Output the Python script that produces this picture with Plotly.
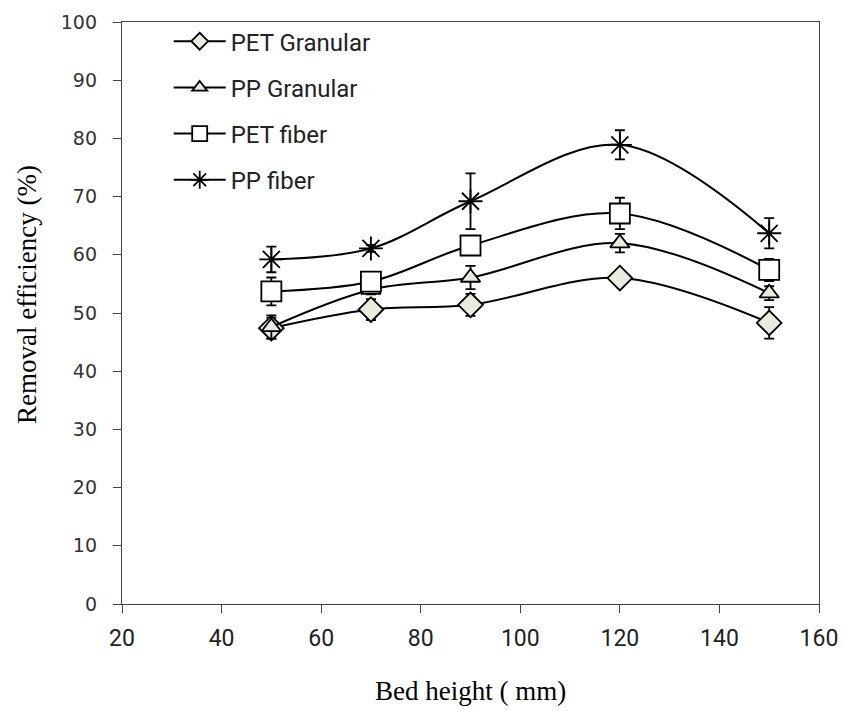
import plotly.graph_objects as go

# Bed height (mm)
bed_height = [50, 70, 90, 120, 150]

# Removal efficiency (%) and standard deviations
pet_granular = [47.4, 50.6, 51.4, 56.0, 48.3]
pet_granular_err = [1.8, 1.8, 1.9, 0.6, 2.7]

pp_granular = [47.6, 54.0, 56.1, 62.0, 53.4]
pp_granular_err = [2.0, 0.8, 2.0, 1.6, 1.2]

pet_fiber = [53.7, 55.4, 61.6, 67.1, 57.4]
pet_fiber_err = [2.4, 0.9, 1.2, 2.7, 1.9]

pp_fiber = [59.2, 61.1, 69.2, 78.9, 63.7]
pp_fiber_err = [2.2, 0.6, 4.8, 2.5, 2.6]

FILL = "#ebeadf"
series = [
    ("PET Granular", pet_granular, pet_granular_err, "diamond", 19, 13, FILL),
    ("PP Granular", pp_granular, pp_granular_err, "triangle-up", 17, 13, FILL),
    ("PET fiber", pet_fiber, pet_fiber_err, "square", 20, 15, "white"),
    ("PP fiber", pp_fiber, pp_fiber_err, "asterisk-open", 20, 15, "black"),
]

fig = go.Figure()
for name, vals, errs, symbol, size, leg_size, fill in series:
    fig.add_trace(go.Scatter(
        x=bed_height, y=vals, name=name, showlegend=False,
        mode="lines+markers",
        line=dict(color="black", width=2, shape="spline", smoothing=1.0),
        marker=dict(symbol=symbol, size=size, color=fill,
                    line=dict(color="black", width=1.8)),
        error_y=dict(type="data", array=errs, visible=True,
                     color="black", thickness=1.8, width=5),
    ))

# legend entries with smaller symbols
for name, vals, errs, symbol, size, leg_size, fill in series:
    fig.add_trace(go.Scatter(
        x=[None], y=[None], name=name, legendgroup=name, showlegend=True,
        mode="lines+markers",
        line=dict(color="black", width=2),
        marker=dict(symbol=symbol, size=leg_size, color=fill,
                    line=dict(color="black", width=1.8)),
    ))

axis_common = dict(
    showline=True, linecolor="#444", linewidth=1.4, mirror=True,
    ticks="outside", ticklen=8, tickcolor="#444", tickwidth=1.2,
    showgrid=False, zeroline=False, automargin=False,
)

fig.update_layout(
    width=843, height=711,
    paper_bgcolor="white", plot_bgcolor="white",
    margin=dict(l=122, r=24, t=22, b=107),
    showlegend=True,
    legend=dict(
        x=0.067, y=1.005, xanchor="left", yanchor="top",
        bgcolor="rgba(0,0,0,0)", tracegroupgap=12,
        font=dict(family="Liberation Sans Narrow, Roboto, sans-serif", size=24, color="#222"),
        itemwidth=52,
    ),
    xaxis=dict(
        range=[20, 160], tickvals=[20, 40, 60, 80, 100, 120, 140, 160],
        tickfont=dict(family="Roboto, sans-serif", size=23, color="#222"),
        ticklabelstandoff=5,
        **axis_common,
    ),
    yaxis=dict(
        range=[0, 100], tickvals=list(range(0, 101, 10)),
        tickfont=dict(family="DejaVu Sans, sans-serif", size=19, color="#333"),
        ticklabelstandoff=12,
        **axis_common,
    ),
    annotations=[
        dict(text="Bed height ( mm)", xref="paper", yref="paper", x=0.5, y=0,
             xanchor="center", yanchor="middle", yshift=-87, showarrow=False,
             font=dict(family="Liberation Serif, serif", size=27, color="black")),
        dict(text="Removal efficiency (%)", xref="paper", yref="paper", x=0, y=0.531,
             xanchor="center", yanchor="middle", xshift=-95, textangle=-90,
             showarrow=False,
             font=dict(family="Liberation Serif, serif", size=27, color="black")),
    ],
)

fig.write_html("out.html")
